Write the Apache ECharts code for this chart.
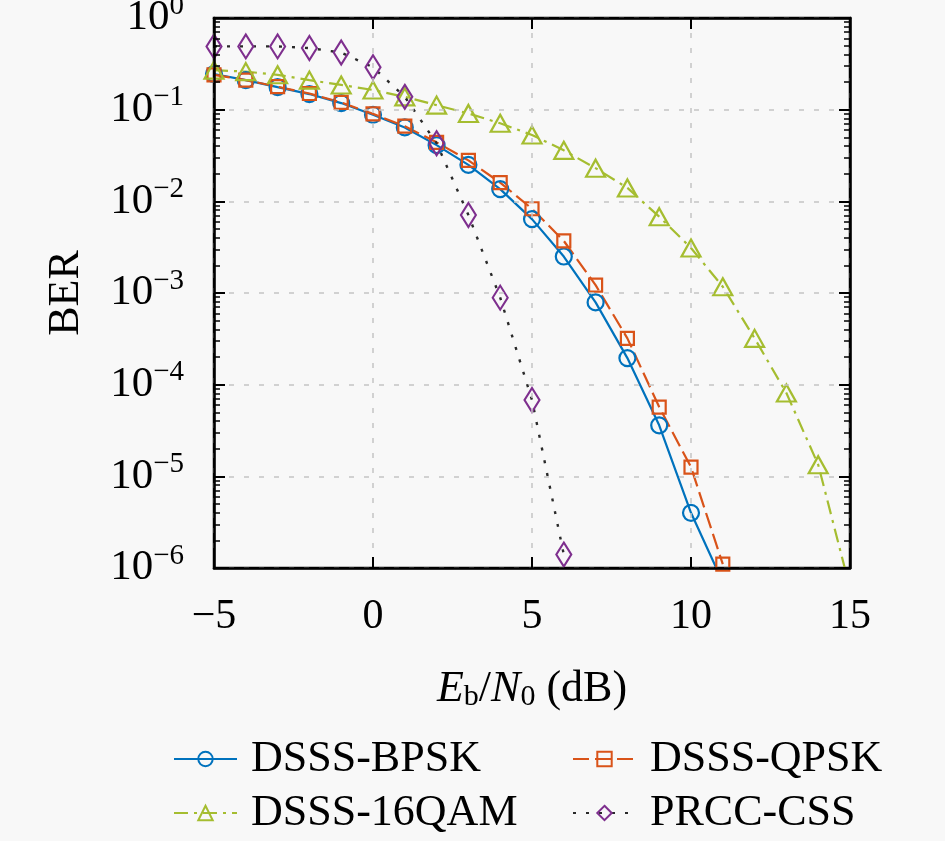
<!DOCTYPE html>
<html>
<head>
<meta charset="utf-8">
<script src="https://cdn.jsdelivr.net/npm/echarts@6/dist/echarts.min.js"></script>
<style>
  html, body { margin: 0; padding: 0; background: #f8f8f8; }
  #chart { width: 945px; height: 841px; }
</style>
</head>
<body>
<div id="chart"></div>
<script>
// BER curves, values
var bpskX = [-5, -4, -3, -2, -1, 0, 1, 2, 3, 4, 5, 6, 7, 8, 9, 10, 11];
var bpskBer = [0.245, 0.21, 0.176, 0.148, 0.118, 0.088, 0.064, 0.041, 0.025, 0.0136,
    0.0064, 0.0025, 0.00079, 0.000195, 3.6e-5, 4.0e-6, 7e-7];

var qpskX = [-5, -4, -3, -2, -1, 0, 1, 2, 3, 4, 5, 6, 7, 8, 9, 10, 11];
var qpskBer = [0.24, 0.21, 0.178, 0.15, 0.12, 0.09, 0.066, 0.044, 0.028, 0.016,
    0.0083, 0.0037, 0.00122, 0.00032, 5.7e-5, 1.26e-5, 1.1e-6];

var qamX = [-5, -4, -3, -2, -1, 0, 1, 2, 3, 4, 5, 6, 7, 8, 9, 10, 11, 12, 13, 14, 15];
var qamBer = [0.27, 0.26, 0.24, 0.21, 0.186, 0.164, 0.138, 0.112, 0.091, 0.071,
    0.053, 0.036, 0.023, 0.014, 0.0068, 0.0031, 0.00117, 0.00032, 8.1e-5, 1.34e-5, 6e-7];

var prccX = [-5, -4, -3, -2, -1, 0, 1, 2, 3, 4, 5, 6];
var prccBer = [0.49, 0.49, 0.49, 0.47, 0.42, 0.29, 0.138, 0.043, 0.0071, 0.00089, 6.8e-5, 1.4e-6];

var seriesNames = ['DSSS-BPSK', 'DSSS-QPSK', 'DSSS-16QAM', 'PRCC-CSS'];

function pairs(xs, ys) {
    return xs.map(function (x, i) { return [x, ys[i]]; });
}

var serif = '"Liberation Serif", "DejaVu Serif", serif';
var bg = '#f8f8f8';
var noFill = 'rgba(0,0,0,0)';

var chart = echarts.init(document.getElementById('chart'));

function legendAt(name, left, top) {
    return {
        data: [name],
        left: left,
        top: top,
        orient: 'horizontal',
        itemWidth: 63,
        itemHeight: 18,
        textStyle: { fontFamily: serif, fontSize: 44, color: '#000', padding: [0, 0, 0, 9] }
    };
}
function frameLine() {
    return { show: true, onZero: false, lineStyle: { color: '#000', width: 2.5 } };
}
function majorTick() {
    return { show: true, inside: true, length: 11, lineStyle: { color: '#000', width: 2 } };
}
function minorTick() {
    return { show: true, splitNumber: 9, length: 6, lineStyle: { color: '#000', width: 1.5 } };
}
function gridLine() {
    return { show: true, lineStyle: { color: '#c4c4c4', type: [5, 10], width: 1.5 } };
}

var option = {
    backgroundColor: bg,
    animation: false,
    grid: {
        left: 214, right: 95, top: 18, bottom: 273,
        outerBoundsMode: 'none',
        show: true, backgroundColor: noFill, borderColor: '#000', borderWidth: 2.5
    },
    legend: [
        legendAt(seriesNames[0], 168, 732),
        legendAt(seriesNames[1], 567, 732),
        legendAt(seriesNames[2], 168, 786),
        legendAt(seriesNames[3], 567, 786)
    ],
    xAxis: [{
        type: 'value',
        min: -5,
        max: 15,
        interval: 5,
        z: 10,
        axisLine: frameLine(),
        axisTick: majorTick(),
        axisLabel: {
            fontFamily: serif, fontSize: 42, color: '#000', margin: 28,
            formatter: function (v) { return v < 0 ? '\u2212' + (-v) : String(v); }
        },
        splitLine: gridLine(),
        name: '{i|E}{s|b}{n|/}{i|N}{s|0}{n| (dB)}',
        nameLocation: 'middle',
        nameGap: 98,
        nameTextStyle: {
            rich: {
                i: { fontFamily: serif, fontSize: 44, fontStyle: 'italic', color: '#000' },
                n: { fontFamily: serif, fontSize: 44, color: '#000' },
                s: { fontFamily: serif, fontSize: 30, color: '#000', padding: [16, 0, 0, 0] }
            }
        }
    }, {
        type: 'value',
        position: 'top',
        min: -5,
        max: 15,
        interval: 5,
        z: 10,
        axisLine: frameLine(),
        axisTick: majorTick(),
        axisLabel: { show: false },
        splitLine: { show: false }
    }],
    yAxis: [{
        type: 'log',
        logBase: 10,
        min: 1e-6,
        max: 1,
        interval: 1,
        z: 10,
        axisLine: frameLine(),
        axisTick: majorTick(),
        minorTick: minorTick(),
        axisLabel: {
            margin: 30,
            formatter: function (v) {
                var e = Math.round(Math.log10(v));
                return '{b|10}{e|' + (e < 0 ? '\u2212' + (-e) : e) + '}';
            },
            rich: {
                b: { fontFamily: serif, fontSize: 43, color: '#000' },
                e: { fontFamily: serif, fontSize: 29, color: '#000', padding: [0, 0, 24, 0] }
            }
        },
        splitLine: gridLine(),
        name: 'BER',
        nameLocation: 'middle',
        nameGap: 126,
        nameTextStyle: { fontFamily: serif, fontSize: 44, color: '#000' }
    }, {
        type: 'log',
        logBase: 10,
        position: 'right',
        min: 1e-6,
        max: 1,
        interval: 1,
        z: 10,
        axisLine: frameLine(),
        axisTick: majorTick(),
        minorTick: minorTick(),
        axisLabel: { show: false },
        splitLine: { show: false }
    }],
    series: [{
        name: seriesNames[0],
        type: 'line',
        data: pairs(bpskX, bpskBer),
        symbol: 'circle',
        symbolSize: 16,
        lineStyle: { color: '#0072BD', width: 2.2, type: 'solid' },
        itemStyle: { color: noFill, borderColor: '#0072BD', borderWidth: 2.2 }
    }, {
        name: seriesNames[1],
        type: 'line',
        data: pairs(qpskX, qpskBer),
        symbol: 'rect',
        symbolSize: 13,
        lineStyle: { color: '#D95319', width: 2.2, type: [16, 6] },
        itemStyle: { color: noFill, borderColor: '#D95319', borderWidth: 2.2 }
    }, {
        name: seriesNames[2],
        type: 'line',
        data: pairs(qamX, qamBer),
        symbol: 'triangle',
        symbolSize: [19, 17],
        lineStyle: { color: '#A5BD30', width: 2.2, type: [14, 6, 3, 6] },
        itemStyle: { color: noFill, borderColor: '#A5BD30', borderWidth: 2.2 }
    }, {
        name: seriesNames[3],
        type: 'line',
        data: pairs(prccX, prccBer),
        symbol: 'diamond',
        symbolSize: [15, 24],
        lineStyle: { color: '#2a2a2a', width: 2.4, type: [3, 10] },
        itemStyle: { color: noFill, borderColor: '#7E2F8E', borderWidth: 2.2 }
    }]
};

chart.setOption(option);
</script>
</body>
</html>
